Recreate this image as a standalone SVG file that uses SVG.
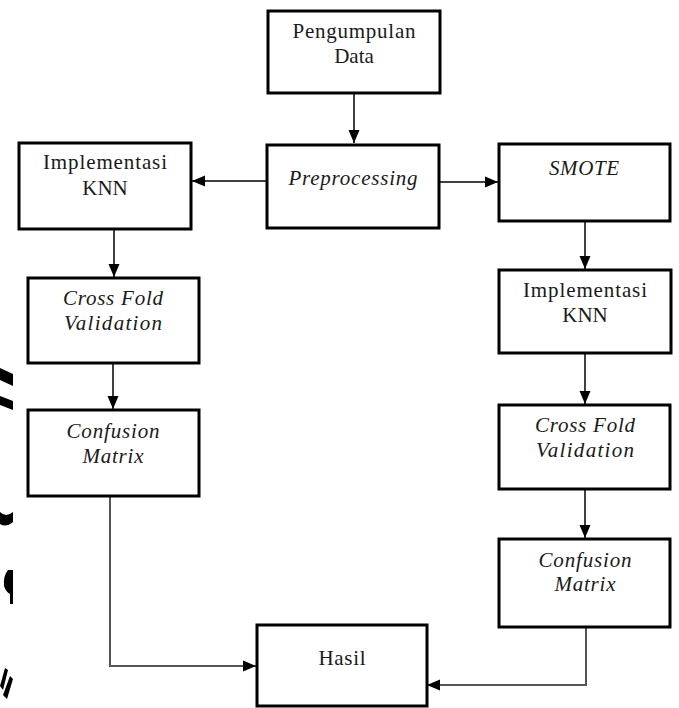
<svg xmlns="http://www.w3.org/2000/svg" width="679" height="708" viewBox="0 0 679 708">
<style>
.box{fill:#fff;stroke:#000;stroke-width:3}
.t{font-family:"Liberation Serif","Times New Roman",serif;font-size:21px;fill:#1a1a1a;text-anchor:middle}
.i{font-style:italic}
.c{fill:none;stroke:#000;stroke-width:1.5}
.g{fill:none;stroke:#555;stroke-width:2}
</style>
<defs>
<marker id="ah" markerUnits="userSpaceOnUse" markerWidth="13" markerHeight="13" viewBox="0 0 13 13" refX="13" refY="6.5" orient="auto">
<path d="M0,1 L13,6.5 L0,12 Z" fill="#000"/>
</marker>
</defs>
<rect width="679" height="708" fill="#fff"/>
<g id="artifacts" fill="#000">
<path d="M0,368 L13,374 L13,386 L0,380 Z"/>
<path d="M0,396 L13,401 L13,410 L0,405 Z"/>
<path d="M0,512 Q6,518 13,512 L13,522 Q6,528 0,524 Z"/>
<path d="M8,570 Q3,576 4,586 Q6,592 10,594 L10,600 L13,600 L13,570 Z"/>
<path d="M10,600 L13,600 L13,604 L10,604 Z"/>
<path d="M0,686 L5,668 L8,670 L3,690 Z"/>
<path d="M3,695 L10,676 L13,679 L7,699 Z"/>
</g>
<g id="connectors">
<path class="c" d="M354,93 V143" marker-end="url(#ah)"/>
<path class="c" d="M266,181 H192" marker-end="url(#ah)"/>
<path class="c" d="M440,182 H498" marker-end="url(#ah)"/>
<path class="c" d="M114,229 V277" marker-end="url(#ah)"/>
<path class="c" d="M113,363 V409" marker-end="url(#ah)"/>
<path class="g" d="M110,496 V666 H256" marker-end="url(#ah)"/>
<path class="c" d="M585,221 V269" marker-end="url(#ah)"/>
<path class="c" d="M585,353 V404" marker-end="url(#ah)"/>
<path class="c" d="M585,489 V538" marker-end="url(#ah)"/>
<path class="g" d="M586,627 V685 H427" marker-end="url(#ah)"/>
</g>
<g id="n1"><rect class="box" x="268" y="11" width="172" height="82"/>
<text class="t" x="354" y="38" textLength="123" lengthAdjust="spacing">Pengumpulan</text>
<text class="t" x="354" y="63">Data</text></g>
<g id="n2"><rect class="box" x="267" y="145" width="172" height="83"/>
<text class="t i" x="353" y="185" textLength="129" lengthAdjust="spacing">Preprocessing</text></g>
<g id="n3"><rect class="box" x="19" y="143" width="172" height="86"/>
<text class="t" x="105" y="169" textLength="124" lengthAdjust="spacing">Implementasi</text>
<text class="t" x="105" y="195">KNN</text></g>
<g id="n4"><rect class="box" x="28" y="278" width="171" height="85"/>
<text class="t i" x="113" y="305" textLength="100" lengthAdjust="spacing">Cross Fold</text>
<text class="t i" x="113" y="330" textLength="98" lengthAdjust="spacing">Validation</text></g>
<g id="n5"><rect class="box" x="28" y="410" width="171" height="86"/>
<text class="t i" x="113" y="438" textLength="93" lengthAdjust="spacing">Confusion</text>
<text class="t i" x="113" y="463" textLength="61" lengthAdjust="spacing">Matrix</text></g>
<g id="n6"><rect class="box" x="499" y="144" width="171" height="77"/>
<text class="t i" x="584" y="175" textLength="70" lengthAdjust="spacing">SMOTE</text></g>
<g id="n7"><rect class="box" x="499" y="270" width="172" height="83"/>
<text class="t" x="585" y="297" textLength="124" lengthAdjust="spacing">Implementasi</text>
<text class="t" x="585" y="322">KNN</text></g>
<g id="n8"><rect class="box" x="499" y="405" width="171" height="84"/>
<text class="t i" x="585" y="432" textLength="100" lengthAdjust="spacing">Cross Fold</text>
<text class="t i" x="585" y="457" textLength="98" lengthAdjust="spacing">Validation</text></g>
<g id="n9"><rect class="box" x="499" y="539" width="171" height="88"/>
<text class="t i" x="585" y="567" textLength="93" lengthAdjust="spacing">Confusion</text>
<text class="t i" x="585" y="591" textLength="61" lengthAdjust="spacing">Matrix</text></g>
<g id="n10"><rect class="box" x="257" y="625" width="170" height="81"/>
<text class="t" x="342" y="665" textLength="47" lengthAdjust="spacing">Hasil</text></g>
</svg>
